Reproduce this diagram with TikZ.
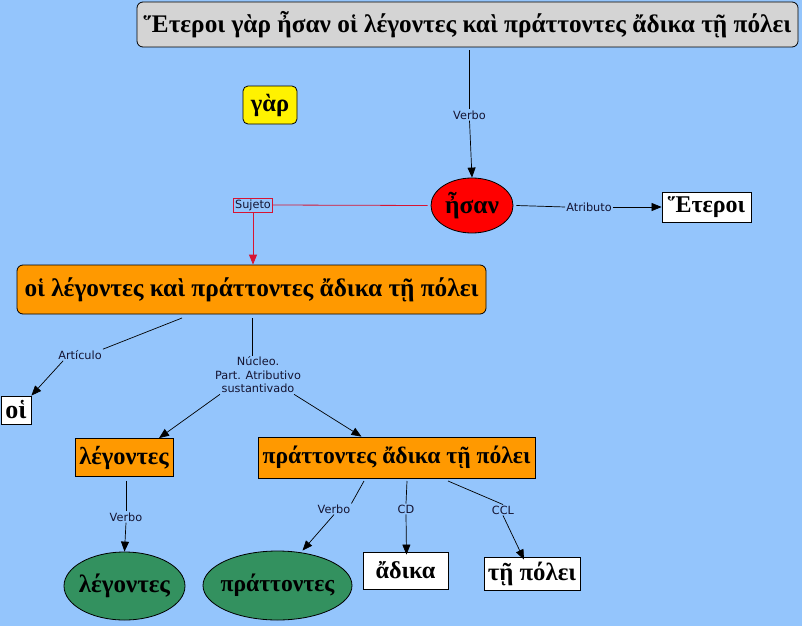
\documentclass[tikz,border=0pt]{standalone}
\usepackage{fontspec}
\setmainfont{Liberation Serif}
\newfontfamily\labfont{DejaVu Sans}
\usetikzlibrary{arrows.meta,shapes.geometric}
\definecolor{bgblue}{RGB}{148,197,252}
\definecolor{boxgray}{RGB}{212,212,212}
\definecolor{boxorange}{RGB}{255,153,0}
\definecolor{boxgreen}{RGB}{51,145,95}
\definecolor{sujred}{RGB}{215,20,50}
\definecolor{labtext}{RGB}{20,20,50}
\tikzset{
  x=1pt,y=-1pt,
  gk/.style={font=\bfseries\fontsize{#1}{#1}\selectfont, inner sep=0pt, draw=black, line width=0.8pt},
  gk/.default=22,
  lab/.style={font=\labfont\fontsize{11.3}{13.5}\selectfont, fill=bgblue, inner sep=1pt, align=center, text=labtext},
  conn/.style={draw=black, line width=0.7pt},
  arr/.style={conn, -{Triangle[length=10pt,width=8pt]}},
}
\begin{document}
\begin{tikzpicture}
\fill[bgblue] (0,0) rectangle (802,626);
\useasboundingbox (0,0) rectangle (802,626);

% nodes
\node[gk=25.3, fill=boxgray, rounded corners=6pt, minimum width=661pt, minimum height=45pt] (top) at (467.5,24.5) {Ἕτεροι γὰρ ἦσαν οἱ λέγοντες καὶ πράττοντες ἄδικα τῇ πόλει};
\node[gk=24.5, fill=yellow, rounded corners=5pt, minimum width=54pt, minimum height=38pt] (gar) at (270,105) {γὰρ};
\node[gk=25.5, fill=red, ellipse, minimum width=82pt, minimum height=55pt] (esan) at (472,205.5) {\makebox[0pt]{ἦσαν}};
\node[gk=24, fill=white, minimum width=89pt, minimum height=30pt] (heteroi) at (706.5,207) {Ἕτεροι};
\node[gk=25.3, fill=boxorange, rounded corners=6pt, minimum width=469pt, minimum height=49pt] (main) at (251.5,289.5) {οἱ λέγοντες καὶ πράττοντες ἄδικα τῇ πόλει};
\node[gk=26, fill=white, minimum width=30pt, minimum height=28pt] (hoi) at (16,410) {οἱ};
\node[gk=24.5, fill=boxorange, minimum width=98pt, minimum height=38pt] (leg) at (124,457.5) {λέγοντες};
\node[gk=23.6, fill=boxorange, minimum width=277pt, minimum height=41pt] (prat) at (396.5,457.5) {πράττοντες ἄδικα τῇ πόλει};
\node[gk=25, fill=boxgreen, ellipse, minimum width=121pt, minimum height=68pt] (legv) at (124.5,586) {\makebox[0pt]{λέγοντες}};
\node[gk=23.6, fill=boxgreen, ellipse, minimum width=149pt, minimum height=69pt] (pratv) at (277.5,585.5) {\makebox[0pt]{πράττοντες}};
\node[gk=24.2, fill=white, minimum width=85pt, minimum height=37pt] (adika) at (405.5,570.5) {ἄδικα};
\node[gk=24.8, fill=white, minimum width=96pt, minimum height=33pt] (tepolei) at (532,573.5) {τῇ πόλει};

% labels
\node[lab] (lverbo) at (469.5,115) {Verbo};
\node[lab] (latr) at (589,207) {Atributo};
\node[lab, draw=sujred, line width=0.7pt, inner sep=1.5pt] (lsuj) at (253,205) {Sujeto};
\node[lab] (lart) at (80,355) {Artículo};
\node[lab] (lnuc) at (258,375) {Núcleo.\\Part. Atributivo\\sustantivado};
\node[lab] (lverbo2) at (126,517) {Verbo};
\node[lab] (lverbo3) at (334,509) {Verbo};
\node[lab] (lcd) at (406,509) {CD};
\node[lab] (lccl) at (503,510) {CCL};

% connectors
\draw[conn] (top.south -| lverbo) ++(0,3) -- (lverbo.north);
\draw[arr] (lverbo.south) -- (esan.north);
\draw[conn] (esan.east) ++(3,0) -- (latr.west);
\draw[arr] (latr.east) -- (heteroi.west);
\draw[conn, draw=sujred, line width=0.8pt] (esan.west) ++(-3,0) -- (lsuj.east);
\draw[arr, draw=sujred, line width=0.8pt, fill=red] (lsuj.south) -- (lsuj.south |- main.north);
\coordinate (mA) at (182,318);
\draw[conn] (mA) -- (lart.north east);
\draw[arr] (lart.south west) ++(6,0) -- (hoi.north east);
\coordinate (mB) at (252,318);
\draw[conn] (mB) -- (lnuc.north -| mB);
\draw[arr] (lnuc.south) ++(-38,0) -- ([xshift=35pt]leg.north);
\draw[arr] (lnuc.south) ++(36,0) -- ([xshift=-35pt]prat.north);
\draw[conn] (leg.south) ++(2,4) -- (lverbo2.north);
\draw[arr] (lverbo2.south) -- (legv.north);
\coordinate (pA) at (364,481);
\coordinate (pB) at (407,481);
\coordinate (pC) at (448,481);
\draw[conn] (pA) -- (lverbo3.north east);
\draw[arr] (lverbo3.south) -- ([xshift=25pt]pratv.north);
\draw[conn] (pB) -- (lcd.north);
\draw[arr] (lcd.south) -- ([xshift=1pt,yshift=-3pt]adika.north);
\draw[conn] (pC) -- (lccl.north);
\draw[arr] (lccl.south) -- ([xshift=-8pt,yshift=-3pt]tepolei.north);
\end{tikzpicture}
\end{document}
